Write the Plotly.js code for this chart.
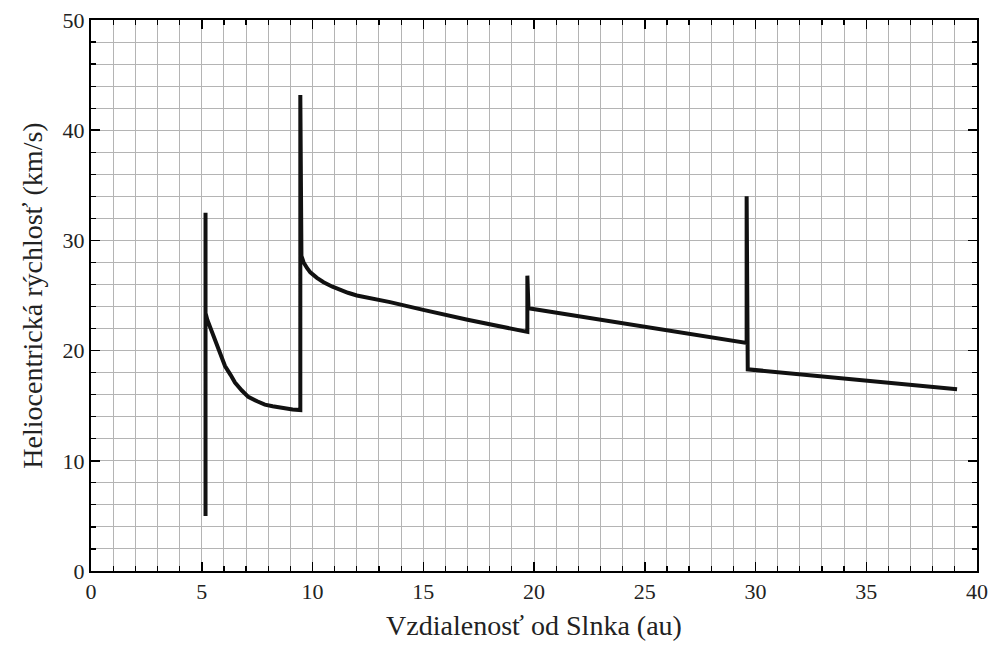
<!DOCTYPE html>
<html>
<head>
<meta charset="utf-8">
<script src="https://cdn.plot.ly/plotly-3.0.1.min.js"></script>
<style>html,body{margin:0;padding:0;background:#fff;}#chart{width:1000px;height:648px;}</style>
</head>
<body>
<div id="chart"></div>
<script>
// Distance from Sun (au)
const distance = [5.17, 5.17, 5.17, 5.25, 5.4, 5.6, 5.85, 6.05, 6.3, 6.5, 6.8, 7.1, 7.5, 7.85, 8.2, 8.6, 9.1, 9.45,
  9.45, 9.5, 9.6, 9.75, 9.9, 10.2, 10.5, 10.9, 11.25, 11.6, 12.0, 13.5, 15.0, 17.0, 19.7,
  19.7, 19.75, 29.6, 29.6, 29.65, 39.1];
// Heliocentric velocity (km/s)
const velocity = [32.5, 5.0, 23.4, 22.8, 22.0, 21.0, 19.7, 18.6, 17.8, 17.1, 16.4, 15.8, 15.4, 15.1, 14.95, 14.8, 14.65, 14.6,
  43.2, 28.6, 28.0, 27.5, 27.1, 26.6, 26.2, 25.8, 25.5, 25.25, 25.0, 24.4, 23.7, 22.8, 21.7,
  26.8, 23.85, 20.7, 34.0, 18.3, 16.5];

const xTitle = "Vzdialenosť od Slnka (au)";
const yTitle = "Heliocentrická rýchlosť (km/s)";
const fontFam = "Liberation Serif, DejaVu Serif, serif";

const trace = {
  x: distance, y: velocity, type: "scatter", mode: "lines",
  line: {color: "#111111", width: 4, shape: "linear"},
  hoverinfo: "skip"
};

const axisCommon = {
  showline: true, linecolor: "#000", linewidth: 2, mirror: "ticks",
  ticks: "inside", ticklen: 9, tickwidth: 1.5, tickcolor: "#000",
  showgrid: true, gridcolor: "#b4b4b4", gridwidth: 1,
  zeroline: false,
  tickfont: {family: fontFam, size: 22, color: "#222"}
};

const layout = {
  width: 1000, height: 648,
  margin: {l: 91, r: 23, t: 20, b: 77},
  paper_bgcolor: "#fff", plot_bgcolor: "#fff",
  showlegend: false,
  xaxis: Object.assign({}, axisCommon, {
    range: [0, 40], dtick: 5, tick0: 0, ticklabelstandoff: 0,
    minor: {dtick: 1, ticks: "inside", ticklen: 5, tickwidth: 1.2, tickcolor: "#000", showgrid: true, gridcolor: "#b4b4b4", gridwidth: 1},
    title: {text: xTitle, font: {family: fontFam, size: 28, color: "#222"}, standoff: 12}
  }),
  yaxis: Object.assign({}, axisCommon, {
    range: [0, 50], dtick: 10, tick0: 0,
    minor: {dtick: 2, ticks: "inside", ticklen: 5, tickwidth: 1.2, tickcolor: "#000", showgrid: true, gridcolor: "#b4b4b4", gridwidth: 1},
    title: {text: yTitle, font: {family: fontFam, size: 28, color: "#222"}, standoff: 12}
  })
};

Plotly.newPlot("chart", [trace], layout, {displayModeBar: false, staticPlot: true});
</script>
</body>
</html>
